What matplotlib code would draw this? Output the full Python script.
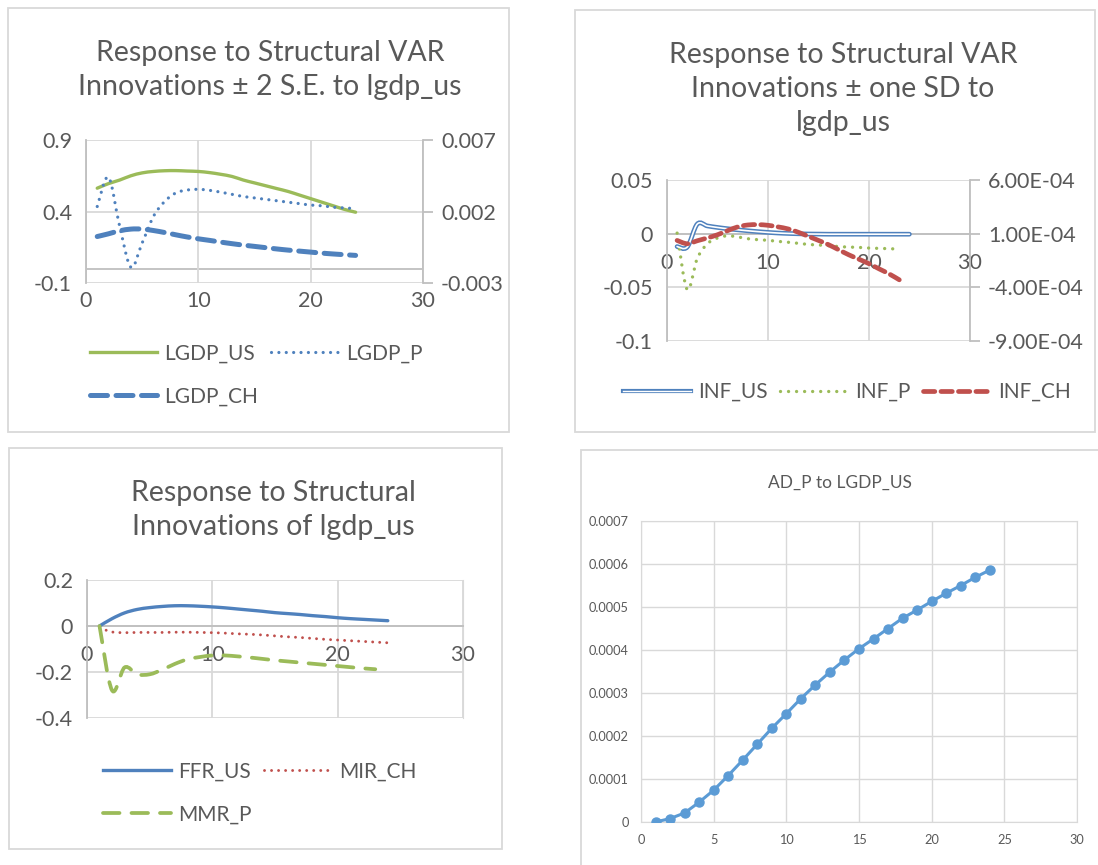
import numpy as np
import matplotlib
matplotlib.use("Agg")
import matplotlib.pyplot as plt
from matplotlib.path import Path
from matplotlib.patches import PathPatch, Rectangle
from matplotlib.lines import Line2D

plt.rcParams['font.family'] = ['Lato', 'DejaVu Sans']

# ---- data ----
steps = list(range(1, 25))
steps23 = list(range(1, 24))

# panel 1: response to lgdp_us (LGDP_P on secondary axis)
lgdp_us = [0.563, 0.595, 0.62, 0.65, 0.67, 0.68, 0.685, 0.686, 0.683, 0.68, 0.672, 0.66,
           0.645, 0.62, 0.60, 0.58, 0.56, 0.54, 0.515, 0.49, 0.465, 0.44, 0.415, 0.395]
lgdp_p = [0.00235, 0.0044, 0.00095, -0.0019, -0.0002, 0.00165, 0.0027, 0.0033, 0.0035, 0.00355,
          0.00348, 0.00335, 0.0032, 0.00305, 0.00295, 0.00285, 0.00275, 0.00265, 0.00255,
          0.00245, 0.0024, 0.0023, 0.00225, 0.0022]
lgdp_ch = [0.225, 0.244, 0.265, 0.277, 0.277, 0.267, 0.253, 0.237, 0.222, 0.209, 0.198, 0.186,
           0.175, 0.165, 0.156, 0.147, 0.138, 0.130, 0.123, 0.116, 0.109, 0.103, 0.098, 0.093]

# panel 2: inflation responses (INF_CH on secondary axis)
inf_us = [-0.012, -0.0125, 0.009, 0.0072, 0.0058, 0.0046, 0.0036, 0.0027, 0.0019, 0.0012,
          0.0006, 0.0002, -0.0001, -0.0003, -0.0004, -0.0005, -0.0005, -0.0005, -0.0005,
          -0.0005, -0.0005, -0.0005, -0.0005, -0.0005]
inf_p = [0.0005, -0.052, -0.023, -0.0094, -0.004, -0.002, -0.003, -0.0047, -0.0056, -0.0062,
         -0.0072, -0.008, -0.009, -0.010, -0.0106, -0.0112, -0.012, -0.0125, -0.0128, -0.0134,
         -0.0137, -0.014, -0.0144]
inf_ch = [3.7e-5, 6e-6, 3.4e-5, 6e-5, 9e-5, 1.28e-4, 1.63e-4, 1.81e-4, 1.84e-4, 1.78e-4,
          1.63e-4, 1.44e-4, 1.13e-4, 7.5e-5, 3.7e-5, -3e-6, -5e-5, -9.7e-5, -1.38e-4, -1.8e-4,
          -2.28e-4, -2.75e-4, -3.3e-4]

# panel 3: interest rates
ffr_us = [0.0, 0.032, 0.057, 0.072, 0.080, 0.085, 0.088, 0.088, 0.086, 0.083, 0.079, 0.074,
          0.069, 0.064, 0.058, 0.054, 0.050, 0.045, 0.041, 0.036, 0.032, 0.029, 0.026, 0.023]
mir_ch = [-0.008, -0.026, -0.029, -0.028, -0.028, -0.028, -0.027, -0.027, -0.028, -0.029,
          -0.031, -0.034, -0.036, -0.039, -0.043, -0.047, -0.050, -0.054, -0.058, -0.061,
          -0.064, -0.067, -0.070, -0.073]
mmr_p = [0.0, -0.28, -0.18, -0.21, -0.21, -0.19, -0.165, -0.145, -0.135, -0.128, -0.128,
         -0.132, -0.137, -0.143, -0.149, -0.154, -0.159, -0.164, -0.169, -0.174, -0.179,
         -0.184, -0.188]

# panel 4: AD_P to LGDP_US
ad_p = [0.0, 0.000008, 0.000021, 0.000046, 0.000074, 0.000108, 0.000144, 0.000181, 0.000218,
        0.000252, 0.000287, 0.000319, 0.000349, 0.000377, 0.000403, 0.000426, 0.00045,
        0.000474, 0.000493, 0.000513, 0.000532, 0.00055, 0.000569, 0.000586]

GREEN = '#9BBB59'
BLUE = '#4F81BD'
RED = '#C0504D'
LBLUE = '#5B9BD5'
TXT = '#595959'
GRID = '#D9D9D9'
AXL = '#BFBFBF'
TICK = 15.5

W, H = 1098, 865
fig = plt.figure(figsize=(W / 100, H / 100), dpi=100)


def px_axes(l, t, r, b):
    return fig.add_axes([l / W, 1 - b / H, (r - l) / W, (b - t) / H])


def frame(l, t, r, b):
    fig.add_artist(Rectangle((l / W, 1 - b / H), (r - l) / W, (b - t) / H,
                             transform=fig.transFigure, fill=False, ec=GRID, lw=1.3))


def smooth(ax, x, y, **kw):
    # excel style smoothed line: bezier through the points
    p = np.column_stack([x, y]).astype(float)
    verts = [p[0]]
    codes = [Path.MOVETO]
    n = len(p)
    for i in range(n - 1):
        p0 = p[i - 1] if i > 0 else p[i]
        p3 = p[i + 2] if i + 2 < n else p[i + 1]
        verts += [p[i] + (p[i + 1] - p0) / 6, p[i + 1] - (p3 - p[i]) / 6, p[i + 1]]
        codes += [Path.CURVE4] * 3
    patch = PathPatch(Path(verts, codes), fill=False, transform=ax.transData, **kw)
    ax.add_patch(patch)
    return patch


def base_axes(ax, ylim, yticks, xlabels_at_zero):
    ax.set_xlim(0, 30)
    ax.set_xticks([0, 10, 20, 30])
    ax.set_ylim(*ylim)
    ax.set_yticks(yticks)
    ax.yaxis.set_major_formatter(lambda v, p: '%g' % round(v, 6))
    ax.grid(True, color=GRID, lw=1.3)
    ax.set_axisbelow(True)
    for s in ['top', 'right']:
        ax.spines[s].set_visible(False)
    ax.spines['left'].set_color(AXL)
    ax.spines['left'].set_linewidth(1.3)
    ax.tick_params(length=0, labelsize=TICK, labelcolor=TXT, pad=10)
    if xlabels_at_zero:
        ax.spines['bottom'].set_position(('data', 0))
        ax.spines['bottom'].set_color(AXL)
        ax.spines['bottom'].set_linewidth(1.3)
        ax.tick_params(axis='x', pad=14)
    else:
        ax.spines['bottom'].set_visible(False)
        ax.axhline(0, color=AXL, lw=1.3, zorder=0.5)
        ax.tick_params(axis='x', pad=6)


def right_axis(ax, ylim, yticks, fmt):
    ax2 = ax.twinx()
    ax2.set_ylim(*ylim)
    ax2.set_yticks(yticks)
    ax2.yaxis.set_major_formatter(fmt)
    for s in ['top', 'left', 'bottom']:
        ax2.spines[s].set_visible(False)
    ax2.spines['right'].set_color(AXL)
    ax2.spines['right'].set_linewidth(1.3)
    ax2.tick_params(length=7, width=1.3, color=AXL, labelsize=TICK, labelcolor=TXT, pad=6)
    return ax2


title_kw = dict(ha='center', va='center', fontsize=20.5, color=TXT, linespacing=1.38)
leg_kw = dict(frameon=False, fontsize=15, labelcolor=TXT, handletextpad=0.35,
              columnspacing=0.6, labelspacing=1.1, handlelength=3.25,
              bbox_transform=fig.transFigure, loc='center')

# ---------------- panel 1 ----------------
frame(8, 8, 509, 432)
fig.text(270 / W, 1 - 70 / H, 'Response to Structural VAR\nInnovations \u00b1 2 S.E. to lgdp_us', **title_kw)
ax1 = px_axes(86, 140, 423, 283)
base_axes(ax1, (-0.1, 0.9), [-0.1, 0.4, 0.9], False)
ax1b = right_axis(ax1, (-0.003, 0.007), [-0.003, 0.002, 0.007], lambda v, p: '%g' % round(v, 6))
smooth(ax1, steps, lgdp_us, ec=GREEN, lw=2.4, capstyle='round', zorder=3)
smooth(ax1, steps, lgdp_ch, ec=BLUE, lw=3.6, linestyle=(0, (3.4, 1.7)), capstyle='round', zorder=3)
smooth(ax1b, steps, lgdp_p, ec=BLUE, lw=2.3, linestyle=(0, (0.01, 2.3)), capstyle='round', zorder=3)
h_us = Line2D([], [], color=GREEN, lw=2.4)
h_p = Line2D([], [], color=BLUE, lw=2.3, ls=(0, (0.01, 2.3)), dash_capstyle='round')
h_ch = Line2D([], [], color=BLUE, lw=3.6, ls=(0, (3.4, 1.7)), dash_capstyle='round')
ax1b.legend([h_us, h_ch, h_p], ['LGDP_US', 'LGDP_CH', 'LGDP_P'], ncol=2,
            bbox_to_anchor=(256 / W, 1 - 375 / H), **leg_kw)

# ---------------- panel 2 ----------------
frame(575, 10, 1095, 432)
fig.text(843 / W, 1 - 89 / H, 'Response to Structural VAR\nInnovations \u00b1 one SD to\nlgdp_us', **title_kw)
ax2 = px_axes(667, 180, 970, 341)
base_axes(ax2, (-0.1, 0.05), [-0.1, -0.05, 0, 0.05], True)
ax2b = right_axis(ax2, (-9e-4, 6e-4), [-9e-4, -4e-4, 1e-4, 6e-4], lambda v, p: '%.2E' % v)
smooth(ax2, steps, inf_us, ec=BLUE, lw=3.4, capstyle='round', zorder=3)
smooth(ax2, steps, inf_us, ec='white', lw=1.2, capstyle='round', zorder=3.1)
smooth(ax2, steps23, inf_p, ec=GREEN, lw=2.4, linestyle=(0, (0.01, 2.4)), capstyle='round', zorder=3)
smooth(ax2b, steps23, inf_ch, ec=RED, lw=3.4, linestyle=(0, (2.4, 1.3)), capstyle='round', zorder=3)
h_ius = (Line2D([], [], color=BLUE, lw=3.0), Line2D([], [], color='white', lw=1.0))
h_ip = Line2D([], [], color=GREEN, lw=2.4, ls=(0, (0.01, 2.4)), dash_capstyle='round')
h_ich = Line2D([], [], color=RED, lw=3.4, ls=(0, (2.4, 1.3)), dash_capstyle='round')
ax2b.legend([h_ius, h_ip, h_ich], ['INF_US', 'INF_P', 'INF_CH'], ncol=3,
            bbox_to_anchor=(847 / W, 1 - 392 / H), **leg_kw)

# ---------------- panel 3 ----------------
frame(9, 448, 502, 849)
fig.text(273 / W, 1 - 510 / H, 'Response to Structural\nInnovations of lgdp_us', **title_kw)
ax3 = px_axes(87, 580, 463, 718)
base_axes(ax3, (-0.4, 0.2), [-0.4, -0.2, 0, 0.2], True)
ax3.spines['right'].set_visible(True)
ax3.spines['right'].set_color(GRID)
smooth(ax3, steps, ffr_us, ec=BLUE, lw=2.4, capstyle='round', zorder=3)
smooth(ax3, steps, mir_ch, ec=RED, lw=2.1, linestyle=(0, (0.01, 2.4)), capstyle='round', zorder=3)
smooth(ax3, steps23, mmr_p, ec=GREEN, lw=2.7, linestyle=(0, (4.4, 3.2)), capstyle='round', zorder=3)
h_f = Line2D([], [], color=BLUE, lw=2.4)
h_m = Line2D([], [], color=RED, lw=2.1, ls=(0, (0.01, 2.4)), dash_capstyle='round')
h_mm = Line2D([], [], color=GREEN, lw=2.7, ls=(0, (4.4, 3.2)), dash_capstyle='round')
ax3.legend([h_f, h_mm, h_m], ['FFR_US', 'MMR_P', 'MIR_CH'], ncol=2,
           bbox_to_anchor=(260 / W, 1 - 793 / H), **leg_kw)

# ---------------- panel 4 ----------------
frame(581, 450, 1110, 880)
fig.text(840 / W, 1 - 483 / H, 'AD_P to LGDP_US', ha='center', va='center', fontsize=12.5, color=TXT)
ax4 = px_axes(641, 521, 1077, 822)
ax4.plot(steps, ad_p, color=LBLUE, lw=2.2, marker='o', ms=6.5, zorder=3)
ax4.set_xlim(0, 30)
ax4.set_xticks(range(0, 31, 5))
ax4.set_ylim(0, 0.0007)
ax4.set_yticks(np.arange(0, 0.00071, 0.0001))
ax4.yaxis.set_major_formatter(lambda v, p: '0' if abs(v) < 1e-12 else '%.4f' % v)
ax4.grid(True, color=GRID, lw=1.0)
ax4.set_axisbelow(True)
for s in ax4.spines.values():
    s.set_color(GRID)
ax4.tick_params(length=0, labelsize=9.2, labelcolor=TXT, pad=9)

fig.savefig('out.png', dpi=100, facecolor='white')
